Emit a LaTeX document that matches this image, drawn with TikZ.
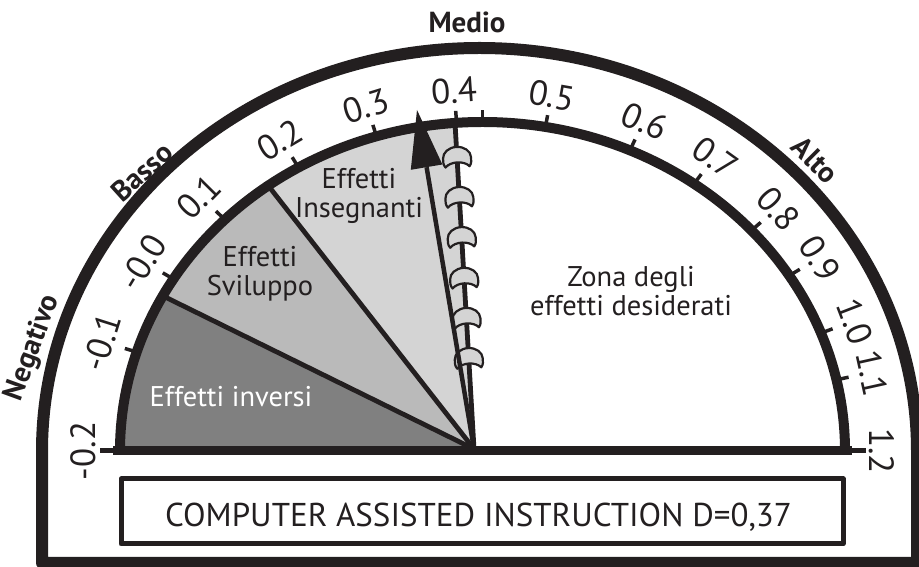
\documentclass[tikz,border=0pt]{standalone}
\usepackage{fontspec}
\setmainfont{PT Sans}
\usetikzlibrary{calc}

\definecolor{ink}{HTML}{231F20}
\definecolor{shadeA}{HTML}{808080}
\definecolor{shadeB}{HTML}{BABABA}
\definecolor{shadeC}{HTML}{D4D4D4}

\tikzset{
  frameline/.style={draw=ink, line width=12},
  scaleline/.style={draw=ink, line width=10},
  spoke/.style={draw=ink, line width=4.8},
  tickmark/.style={draw=ink, line width=3.5},
  ticklab/.style={text=ink, inner sep=0, font=\fontsize{35}{35}\selectfont},
  zonelab/.style={text=ink, inner sep=0, align=center, font=\fontsize{28.5}{29}\selectfont},
  boldlab/.style={text=ink, inner sep=0, font=\bfseries\fontsize{29}{29}\selectfont},
  chainhook/.pic={
    \filldraw[fill=shadeC, draw=ink, line width=2.2]
      (-12,-10) .. controls (-14.5,-7) and (-14,-4) .. (-14,-1)
      arc[start angle=180, end angle=0, x radius=14, y radius=11]
      .. controls (14,-4) and (14.5,-7) .. (12,-10)
      .. controls (7,-4) and (-7,-4) .. (-12,-10) -- cycle;
  }
}

\begin{document}
\begin{tikzpicture}[x=1pt, y=1pt, line join=round]
\useasboundingbox (0,0) rectangle (919,567);

% centres of the two scales and the hub of the needles
\coordinate (Oi) at (482.5,116);
\coordinate (Oo) at (479.5,116);
\coordinate (C)  at (474,118);
\coordinate (T)  at (455,444);

% shaded sectors, kept inside the inner scale
\begin{scope}
  \clip (120,116) arc[start angle=180, end angle=0, x radius=362.5, y radius=329] -- cycle;
  \fill[shadeA] (C) -- ($(C)+(180:700)$) -- ($(C)+(153.8:700)$) -- cycle;
  \fill[shadeB] (C) -- ($(C)+(153.8:700)$) -- ($(C)+(128:700)$) -- cycle;
  \fill[shadeC] (C) -- ($(C)+(128:700)$) -- ($(C)+(93.34:700)$) -- cycle;
  \draw[spoke] (C) -- ++(153.8:700);
  \draw[spoke] (C) -- ++(128:700);
  \draw[spoke] (C) -- (T);
\end{scope}

% outer frame
\draw[frameline] (42,4) -- (42,116)
  arc[start angle=180, end angle=0, x radius=437.5, y radius=403]
  -- (917,4) -- cycle;

% inner scale and base line
\draw[scaleline] (120,116) arc[start angle=180, end angle=0, x radius=362.5, y radius=329];
\draw[draw=ink, line width=9] (113,116) -- (852,116);
\draw[draw=ink, line width=5] (100,116) -- (120,116);
\draw[draw=ink, line width=5] (845,116) -- (866,116);

% tick marks and their values
\foreach \t in {162.5,148.5,135.3,120.5,107,94.1,90,80,66,54.3,42.1,32.2,21,12.5}
  \draw[tickmark] ($(Oi)+(\t:362.5 and 329)$) -- ($(Oi)+(\t:375 and 341)$);
\foreach \t/\v in {180/-0.2, 162.5/-0.1, 148.5/-0.0, 135.3/0.1, 120.5/0.2, 107/0.3,
                   94.1/0.4, 80/0.5, 66/0.6, 54.3/0.7, 42.1/0.8, 32.2/0.9, 21/1.0,
                   12.5/1.1, 0/1.2}
  \node[ticklab, rotate=\t-90] at ($(Oi)+(\t:399 and 361)$) {\v};

% range names round the rim
\node[boldlab] (medio) at (467,545) {Medio};
\node[boldlab, rotate=42] (basso) at (142,395) {Basso};
\node[boldlab, rotate=-45] (alto) at (815,407) {Alto};
\node[boldlab, rotate=70] (negativo) at (33,219) {Negativo};

% sector names
\node[zonelab, text=white] (inversi) at (231,170) {Effetti inversi};
\node[zonelab] (sviluppo) at (260,293) {Effetti\\Sviluppo};
\node[zonelab] (insegnanti) at (359,371) {Effetti\\Insegnanti};
\node[zonelab] (zona) at (631,276) {Zona degli\\effetti desiderati};

% hinge line with its hooks
\foreach \p in {0.279,0.402,0.525,0.650,0.773,0.896}
  \pic[rotate=3.34] at ($(C)!\p!(T)$) {chainhook};

% needle
\coordinate (tip) at (417,457);
\coordinate (hb)  at (426.6,399.8);
\coordinate (h1)  at (442.4,402.5);
\coordinate (h2)  at (410.8,397.2);
\draw[draw=ink, line width=4.5] (C) -- (hb);
\fill[ink] (tip) -- (h1) -- (h2) -- cycle;

% caption box
\node[draw=ink, line width=5, minimum width=722, minimum height=65, inner sep=0] (box) at (482,55.5) {};
\node[text=ink, inner sep=0, anchor=base, font=\fontsize{33}{33}\selectfont] (caption) at (478.5,40)
  {COMPUTER ASSISTED INSTRUCTION D=0,37};
\end{tikzpicture}
\end{document}
